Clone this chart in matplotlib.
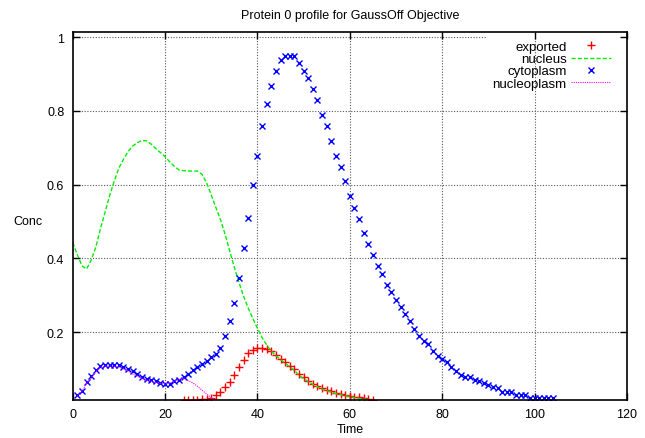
import numpy as np
import matplotlib
matplotlib.use('Agg')
import matplotlib.pyplot as plt

# time axis and series
cyto_t = list(range(1, 105))
cytoplasm = [0.030, 0.040, 0.065, 0.080, 0.097, 0.108, 0.110, 0.110, 0.110, 0.110,
             0.104, 0.099, 0.093, 0.086, 0.079, 0.073, 0.069, 0.068, 0.062, 0.059,
             0.060, 0.066, 0.070, 0.078, 0.087, 0.096, 0.104, 0.112, 0.121, 0.131,
             0.141, 0.158, 0.190, 0.229, 0.278, 0.348, 0.428, 0.510, 0.600, 0.678,
             0.758, 0.818, 0.868, 0.909, 0.938, 0.949, 0.949, 0.949, 0.929, 0.909,
             0.889, 0.859, 0.829, 0.788, 0.758, 0.719, 0.678, 0.648, 0.609, 0.570,
             0.538, 0.508, 0.468, 0.439, 0.408, 0.378, 0.358, 0.328, 0.309, 0.288,
             0.269, 0.249, 0.229, 0.208, 0.189, 0.176, 0.167, 0.148, 0.136, 0.127,
             0.118, 0.106, 0.095, 0.083, 0.079, 0.077, 0.070, 0.066, 0.061, 0.057,
             0.050, 0.047, 0.038, 0.038, 0.038, 0.029, 0.029, 0.029, 0.020, 0.020,
             0.020, 0.020, 0.020, 0.020]

exp_t = list(range(24, 66))
exported = [0.016, 0.016, 0.016, 0.016, 0.017, 0.019, 0.022, 0.028, 0.036, 0.050,
            0.065, 0.083, 0.104, 0.125, 0.143, 0.152, 0.158, 0.158, 0.154, 0.149,
            0.138, 0.128, 0.120, 0.109, 0.100, 0.086, 0.077, 0.068, 0.059, 0.053,
            0.047, 0.043, 0.039, 0.035, 0.032, 0.029, 0.027, 0.025, 0.023, 0.020,
            0.018, 0.016]

nuc_t = list(range(0, 66))
nucleus = [0.443, 0.410, 0.380, 0.371, 0.395, 0.430, 0.480, 0.525, 0.570, 0.610,
           0.645, 0.669, 0.690, 0.705, 0.714, 0.720, 0.719, 0.710, 0.698, 0.687,
           0.676, 0.662, 0.650, 0.640, 0.638, 0.637, 0.637, 0.637, 0.628, 0.605,
           0.572, 0.538, 0.505, 0.465, 0.420, 0.375, 0.335, 0.297, 0.265, 0.237,
           0.210, 0.185, 0.165, 0.148, 0.136, 0.125, 0.116, 0.105, 0.096, 0.083,
           0.073, 0.066, 0.058, 0.051, 0.045, 0.041, 0.037, 0.033, 0.030, 0.027,
           0.025, 0.022, 0.020, 0.018, 0.017, 0.016]

np_t = list(range(1, 32))
nucleoplasm = [0.025, 0.040, 0.060, 0.075, 0.092, 0.103, 0.107, 0.108, 0.107, 0.105,
               0.100, 0.094, 0.086, 0.080, 0.074, 0.069, 0.066, 0.063, 0.060, 0.059,
               0.062, 0.066, 0.071, 0.073, 0.068, 0.062, 0.053, 0.042, 0.032, 0.022,
               0.015]

xticks = [0, 20, 40, 60, 80, 100, 120]
yticks = [0.2, 0.4, 0.6, 0.8, 1.0]
ylabels = ['0.2', '0.4', '0.6', '0.8', '1']

plt.rcParams['font.family'] = ['Liberation Sans', 'DejaVu Sans']

fig = plt.figure(figsize=(6.45, 4.39), dpi=100)
ax = fig.add_axes([0.1127, 0.0866, 0.8593, 0.8375])

# grid, gnuplot style (the y=1 line stops before the key)
gkw = dict(color='0.35', linestyle=(0, (1, 1.5)), linewidth=0.8, zorder=0)
for xv in xticks[1:-1]:
    ax.axvline(xv, **gkw)
for yv in yticks[:-1]:
    ax.axhline(yv, **gkw)
ax.hlines(1.0, 0, 89.7, **gkw)

ax.plot(exp_t, exported, linestyle='none', marker='+', color='#ff0000',
        markersize=6, markeredgewidth=1.0, label='exported')
ax.plot(nuc_t, nucleus, color='#00ee00', linestyle=(0, (3, 1.5)),
        linewidth=1.0, label='nucleus')
ax.plot(cyto_t, cytoplasm, linestyle='none', marker='x', color='#0000ff',
        markersize=5, markeredgewidth=1.0, label='cytoplasm')
ax.plot(np_t, nucleoplasm, color='#ff00ff', linestyle=(0, (1, 1)),
        linewidth=0.8, label='nucleoplasm')

ax.set_xlim(0, 120)
ax.set_ylim(0.0156, 1.0135)
ax.set_xticks(xticks)
ax.set_yticks(yticks)
ax.set_yticklabels(ylabels)
ax.tick_params(direction='in', length=5, width=1, top=True, right=True,
               labelsize=9, pad=6)
for s in ax.spines.values():
    s.set_linewidth(1.2)

ax.set_xlabel('Time', fontsize=9, labelpad=2)
ax.set_ylabel('Conc', fontsize=9, rotation=0, va='center')
ax.yaxis.set_label_coords(-0.08, 0.487)
ax.set_title('Protein 0 profile for GaussOff Objective', fontsize=9, pad=10)

ax.legend(loc='upper right', bbox_to_anchor=(0.99, 1.006), frameon=False,
          markerfirst=False, fontsize=9.5, handlelength=3.0, handletextpad=0.35,
          labelspacing=0.0, borderpad=0.3)

fig.savefig('out.png', dpi=100)
